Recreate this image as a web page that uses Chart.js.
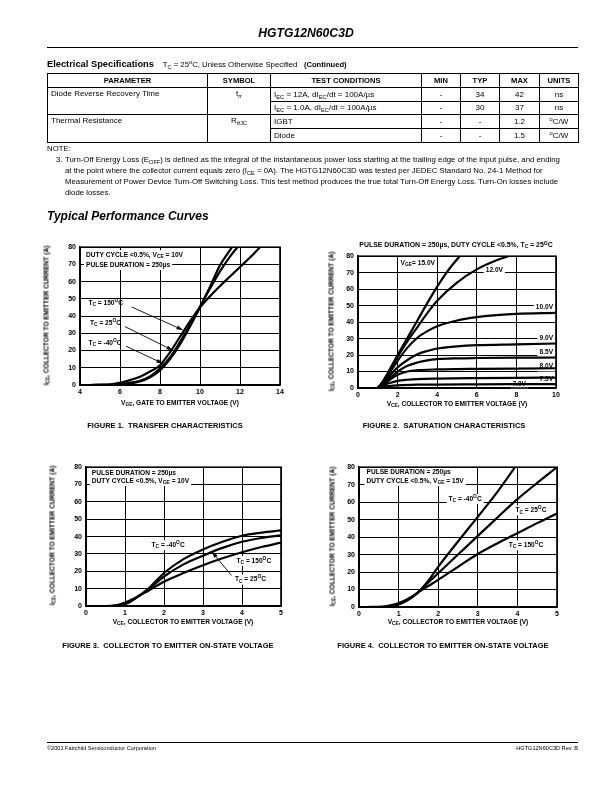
<!DOCTYPE html>
<html>
<head>
<meta charset="utf-8">
<script src="https://cdn.jsdelivr.net/npm/chart.js@4.4.1/dist/chart.umd.min.js"></script>
<style>
  html, body { margin: 0; padding: 0; background: #fff; }
  body { width: 612px; height: 792px; position: relative; overflow: hidden;
         font-family: "Liberation Sans", Arial, sans-serif; color: #000; }
  .abs { position: absolute; white-space: nowrap; will-change: transform; }
  sub { font-size: 0.72em; vertical-align: -0.3em; line-height: 0; }
  sup { font-size: 0.72em; vertical-align: 0.45em; line-height: 0; }
  #spec { position: absolute; left: 47px; top: 73px; width: 531px; border-collapse: collapse;
          table-layout: fixed; font-size: 8px; will-change: transform; }
  #spec td, #spec th { border: 1px solid #000; height: 12.8px; padding: 0 3px; vertical-align: middle;
          text-align: center; white-space: nowrap; overflow: hidden; }
  #spec th { font-weight: bold; font-size: 7.6px; }
  #spec td.l { text-align: left; }
  #spec td.top { vertical-align: top; padding-top: 1px; }
  .note { font-size: 7.8px; line-height: 11px; }
  .cap { font-size: 7.5px; font-weight: bold; width: 300px; text-align: center; }
  .axt { font-size: 6.6px; font-weight: bold; text-align: center; }
  .rot { transform: rotate(-90deg); transform-origin: 50% 50%; }
  canvas { position: absolute; }
</style>
</head>
<body>

<div class="abs" style="left:0;top:26px;width:612px;text-align:center;font:italic bold 12.2px 'Liberation Sans',Arial,sans-serif;line-height:14px;">HGTG12N60C3D</div>
<div class="abs" style="left:47px;top:47px;width:531px;height:1px;background:#000;"></div>

<div class="abs" style="left:47px;top:56px;line-height:12px;">
  <span style="font-weight:bold;font-size:9.3px;">Electrical Specifications</span><span style="font-size:7.8px;">&nbsp;&nbsp;&nbsp;&nbsp;T<sub>C</sub> = 25<sup>o</sup>C, Unless Otherwise Specified&nbsp;&nbsp;&nbsp;</span><span style="font-size:7.6px;font-weight:bold;">(Continued)</span>
</div>

<table id="spec">
  <colgroup>
    <col style="width:160px"><col style="width:63px"><col style="width:151px">
    <col style="width:39px"><col style="width:39px"><col style="width:40px"><col style="width:39px">
  </colgroup>
  <tr><th>PARAMETER</th><th>SYMBOL</th><th>TEST CONDITIONS</th><th>MIN</th><th>TYP</th><th>MAX</th><th>UNITS</th></tr>
  <tr><td rowspan="2" class="l top">Diode Reverse Recovery Time</td><td rowspan="2" class="top">t<sub>rr</sub></td>
      <td class="l">I<sub>EC</sub> = 12A, dI<sub>EC</sub>/dt = 100A/µs</td><td>-</td><td>34</td><td>42</td><td>ns</td></tr>
  <tr><td class="l">I<sub>EC</sub> = 1.0A, dI<sub>EC</sub>/dt = 100A/µs</td><td>-</td><td>30</td><td>37</td><td>ns</td></tr>
  <tr><td rowspan="2" class="l top">Thermal Resistance</td><td rowspan="2" class="top">R<sub>θJC</sub></td>
      <td class="l">IGBT</td><td>-</td><td>-</td><td>1.2</td><td><sup>o</sup>C/W</td></tr>
  <tr><td class="l">Diode</td><td>-</td><td>-</td><td>1.5</td><td><sup>o</sup>C/W</td></tr>
</table>

<div class="abs note" style="left:47px;top:143px;">NOTE:</div>
<div class="abs note" style="left:56px;top:154px;">3.</div>
<div class="abs note" style="left:65px;top:154px;">
  Turn-Off Energy Loss (E<sub>OFF</sub>) is defined as the integral of the instantaneous power loss starting at the trailing edge of the input pulse, and ending<br>
  at the point where the collector current equals zero (I<sub>CE</sub> = 0A). The HGTG12N60C3D was tested per JEDEC Standard No. 24-1 Method for<br>
  Measurement of Power Device Turn-Off Switching Loss. This test method produces the true total Turn-Off Energy Loss. Turn-On losses include<br>
  diode losses.
</div>

<div class="abs" style="left:47px;top:209px;font:italic bold 12px 'Liberation Sans',Arial,sans-serif;line-height:15px;">Typical Performance Curves</div>

<!-- figure 1 -->
<canvas id="fig1" width="230" height="160" style="left:58px;top:239px;"></canvas>
<div class="abs axt" style="left:80px;top:399px;width:200px;">V<sub>GE</sub>, GATE TO EMITTER VOLTAGE (V)</div>
<div class="abs axt rot" style="left:-34px;top:312px;width:160px;">I<sub>CE</sub>, COLLECTOR TO EMITTER CURRENT (A)</div>
<div class="abs cap" style="left:15px;top:421px;">FIGURE 1.&nbsp; TRANSFER CHARACTERISTICS</div>

<!-- figure 2 -->
<div class="abs axt" style="left:340px;top:241px;width:232px;font-size:6.9px;">PULSE DURATION = 250µs, DUTY CYCLE &lt;0.5%, T<sub>C</sub> = 25<sup>O</sup>C</div>
<canvas id="fig2" width="228" height="154" style="left:336px;top:248px;"></canvas>
<div class="abs axt" style="left:340px;top:400px;width:234px;">V<sub>CE</sub>, COLLECTOR TO EMITTER VOLTAGE (V)</div>
<div class="abs axt rot" style="left:251px;top:318px;width:160px;">I<sub>CE</sub>, COLLECTOR TO EMITTER CURRENT (A)</div>
<div class="abs cap" style="left:294px;top:421px;">FIGURE 2.&nbsp; SATURATION CHARACTERISTICS</div>

<!-- figure 3 -->
<canvas id="fig3" width="225" height="161" style="left:64px;top:459px;"></canvas>
<div class="abs axt" style="left:66px;top:618px;width:234px;">V<sub>CE</sub>, COLLECTOR TO EMITTER VOLTAGE (V)</div>
<div class="abs axt rot" style="left:-28px;top:532px;width:160px;">I<sub>CE</sub>, COLLECTOR TO EMITTER CURRENT (A)</div>
<div class="abs cap" style="left:18px;top:641px;">FIGURE 3.&nbsp; COLLECTOR TO EMITTER ON-STATE VOLTAGE</div>

<!-- figure 4 -->
<canvas id="fig4" width="228" height="162" style="left:337px;top:459px;"></canvas>
<div class="abs axt" style="left:341px;top:618px;width:234px;">V<sub>CE</sub>, COLLECTOR TO EMITTER VOLTAGE (V)</div>
<div class="abs axt rot" style="left:252px;top:533px;width:160px;">I<sub>CE</sub>, COLLECTOR TO EMITTER CURRENT (A)</div>
<div class="abs cap" style="left:293px;top:641px;">FIGURE 4.&nbsp; COLLECTOR TO EMITTER ON-STATE VOLTAGE</div>

<div class="abs" style="left:47px;top:742px;width:531px;height:1px;background:#000;"></div>
<div class="abs" style="left:47px;top:745px;font-size:5.6px;">©2001 Fairchild Semiconductor Corporation</div>
<div class="abs" style="left:378px;top:745px;width:200px;text-align:right;font-size:5.6px;">HGTG12N60C3D Rev. B</div>

<script>
// ---- Figure 1: transfer characteristics (VGE in V, ICE in A)
const f1X150 = [4.5, 5.5, 6, 6.5, 7, 7.5, 8, 8.5, 9, 9.5, 10, 10.5, 11, 11.5, 12, 12.5, 13.0];
const f1Y150 = [0, 0.3, 1.3, 2.8, 4.8, 7.8, 11.5, 19, 28, 37, 45, 51.5, 57.5, 63, 68.5, 74, 80];
const f1X25 = [4.5, 6, 6.5, 7, 7.5, 8, 8.5, 9, 9.5, 10, 10.5, 11, 11.5, 11.87];
const f1Y25 = [0, 0.5, 1.2, 2.5, 5, 9.5, 16, 25, 35, 45.5, 56, 66, 74.5, 80];
const f1Xm40 = [4.5, 6, 6.5, 7, 7.5, 8, 8.5, 9, 9.5, 10, 10.5, 11, 11.3, 11.6];
const f1Ym40 = [0, 0.3, 0.8, 2, 4.5, 8.5, 15, 23.5, 34, 45, 57, 69.5, 75, 80];

// ---- Figure 2: saturation characteristics, one curve per VGE
const f2X15 = [0, 0.95, 1.2, 1.5, 2, 2.5, 3, 3.5, 4, 4.5, 5.13];
const f2Y15 = [0, 0, 3, 9, 20, 30.5, 41, 51.5, 61.5, 70.5, 80];
const f2X12 = [0, 0.95, 1.2, 1.5, 2, 2.5, 3, 3.5, 4, 5, 6, 7, 7.6];
const f2Y12 = [0, 0, 3, 8.5, 19, 28.5, 37, 45.5, 53, 64, 72, 77.5, 80];
const f2X10 = [0, 1, 1.2, 1.5, 2, 2.5, 3, 3.5, 4, 5, 6, 7, 8, 10];
const f2Y10 = [0, 0, 2.5, 7.5, 16.5, 24.5, 30.5, 34.5, 37.5, 41, 43, 44.2, 45, 45.6];
const f2X9 = [0, 1, 1.3, 1.6, 2, 2.5, 3, 3.5, 4, 5, 6, 8, 10];
const f2Y9 = [0, 0, 3, 7.5, 12.5, 17, 20.5, 22.5, 24, 25.3, 26, 26.5, 27];
const f2X85 = [0, 1, 1.3, 1.6, 2, 2.5, 3, 3.5, 4, 5, 6, 8, 10];
const f2Y85 = [0, 0, 2.5, 6, 10, 13.5, 15.5, 16.8, 17.5, 18, 18.2, 18.4, 18.5];
const f2X8 = [0, 1, 1.3, 1.6, 2, 2.5, 3, 4, 5, 6, 8, 10];
const f2Y8 = [0, 0, 2, 5, 8, 10, 10.8, 11.3, 11.5, 11.6, 11.8, 12];
const f2X75 = [0, 1, 1.3, 1.6, 2, 2.5, 3, 4, 6, 8, 10];
const f2Y75 = [0, 0, 1.5, 3, 4.3, 5, 5.4, 5.7, 6, 6.2, 6.3];
const f2X7 = [0, 1, 1.3, 1.6, 2, 3, 4, 6, 8, 10];
const f2Y7 = [0, 0, 0.7, 1.2, 1.6, 2, 2.1, 2.2, 2.3, 2.4];

// ---- Figure 3: on-state voltage, VGE = 10V
const f3X = [0, 0.6, 0.9, 1.1, 1.3, 1.6, 2, 2.5, 3, 3.5, 4, 4.5, 5];
const f3Ym40 = [0, 0, 0.5, 2, 4.8, 10, 19, 27, 32.6, 37, 40.5, 42.3, 43.6];
const f3Y25 = [0, 0, 0.6, 2.2, 5, 9.5, 17, 24, 29, 33.5, 37, 39.2, 40.7];
const f3X150 = [0, 0.5, 0.8, 1, 1.2, 1.4, 1.6, 2, 2.5, 3, 3.5, 4, 4.5, 5];
const f3Y150 = [0, 0, 0.6, 2, 4, 6.5, 8.8, 14, 19, 23.5, 27.5, 31, 34, 36.5];

// ---- Figure 4: on-state voltage, VGE = 15V
const f4Xm40 = [0.2, 0.6, 0.9, 1.1, 1.3, 1.5, 1.75, 2, 2.5, 3, 3.5, 3.94];
const f4Ym40 = [0, 0, 0.8, 2.5, 5, 8.5, 15, 23, 37.5, 51.6, 66, 80];
const f4X = [0.2, 0.6, 0.9, 1.1, 1.3, 1.5, 1.75, 2, 2.5, 3, 3.5, 4, 4.5, 5];
const f4Y25 = [0, 0, 0.8, 2.5, 5, 8.5, 14, 19.3, 30, 40.7, 51.3, 61.7, 71, 80];
const f4Y150 = [0, 0.2, 1.5, 3.2, 5.5, 8.5, 12, 15.5, 23, 30.3, 36.5, 42.2, 48, 53.5];

const yTicks = [0, 10, 20, 30, 40, 50, 60, 70, 80];

const FONT = "'Liberation Sans', Arial, sans-serif";

function pairs(xs, ys) {
  return xs.map((x, i) => ({ x: x, y: ys[i] }));
}

// text like "T_{C} = 150^{O}C" -> segments with sub/superscript
function parseRich(s) {
  const out = [];
  const re = /([_^])\{([^}]*)\}|[^_^]+/g;
  let m;
  while ((m = re.exec(s)) !== null) {
    if (m[1]) out.push({ t: m[2], mode: m[1] === '_' ? 'sub' : 'sup' });
    else out.push({ t: m[0], mode: 'n' });
  }
  return out;
}

function drawRich(ctx, text, x, y, align, box) {
  const size = 6.6, small = 4.9;
  const segs = parseRich(text);
  let w = 0;
  segs.forEach(s => {
    ctx.font = 'bold ' + (s.mode === 'n' ? size : small) + 'px ' + FONT;
    s.w = ctx.measureText(s.t).width;
    w += s.w;
  });
  let sx = align === 'right' ? x - w : x;
  if (box) {
    ctx.fillStyle = '#fff';
    ctx.fillRect(sx - 2, y - 5, w + 4, 10);
  }
  ctx.fillStyle = '#000';
  ctx.textBaseline = 'middle';
  ctx.textAlign = 'left';
  segs.forEach(s => {
    ctx.font = 'bold ' + (s.mode === 'n' ? size : small) + 'px ' + FONT;
    const dy = s.mode === 'sub' ? 1.8 : s.mode === 'sup' ? -2.6 : 0;
    ctx.fillText(s.t, sx, y + dy);
    sx += s.w;
  });
}

const notesPlugin = {
  id: 'notes',
  beforeDatasetsDraw(chart, args, opts) {
    const { ctx, scales } = chart;
    ctx.save();
    (opts.labels || []).forEach(l => {
      drawRich(ctx, l.text, scales.x.getPixelForValue(l.x), scales.y.getPixelForValue(l.y), l.align, l.box);
    });
    ctx.restore();
  },
  afterDatasetsDraw(chart, args, opts) {
    const { ctx, scales, chartArea } = chart;
    ctx.save();
    ctx.strokeStyle = '#000';
    ctx.fillStyle = '#000';
    (opts.arrows || []).forEach(a => {
      const x1 = scales.x.getPixelForValue(a.from[0]), y1 = scales.y.getPixelForValue(a.from[1]);
      const x2 = scales.x.getPixelForValue(a.to[0]), y2 = scales.y.getPixelForValue(a.to[1]);
      const ang = Math.atan2(y2 - y1, x2 - x1);
      ctx.lineWidth = 0.9;
      ctx.beginPath();
      ctx.moveTo(x1, y1);
      ctx.lineTo(x2 - 5 * Math.cos(ang), y2 - 5 * Math.sin(ang));
      ctx.stroke();
      ctx.beginPath();
      ctx.moveTo(x2, y2);
      ctx.lineTo(x2 - 7 * Math.cos(ang) + 2 * Math.sin(ang), y2 - 7 * Math.sin(ang) - 2 * Math.cos(ang));
      ctx.lineTo(x2 - 7 * Math.cos(ang) - 2 * Math.sin(ang), y2 - 7 * Math.sin(ang) + 2 * Math.cos(ang));
      ctx.closePath();
      ctx.fill();
    });
    // heavy plot frame
    ctx.lineWidth = 1.6;
    ctx.strokeRect(chartArea.left, chartArea.top, chartArea.right - chartArea.left, chartArea.bottom - chartArea.top);
    ctx.restore();
  }
};

function curve(data) {
  return {
    data: data,
    showLine: true,
    borderColor: '#000',
    borderWidth: 2.2,
    pointRadius: 0,
    fill: false,
    cubicInterpolationMode: 'monotone'
  };
}

function makeChart(id, xMin, xMax, xStep, series, notes) {
  return new Chart(document.getElementById(id), {
    type: 'scatter',
    data: { datasets: series.map(curve) },
    options: {
      responsive: false,
      animation: false,
      layout: { padding: { top: 6, right: 8, left: 0, bottom: 0 } },
      plugins: { legend: { display: false }, tooltip: { enabled: false }, notes: notes },
      scales: {
        x: {
          type: 'linear', min: xMin, max: xMax,
          afterFit: s => { s.height = 14; },
          grid: { color: '#000', lineWidth: 1, drawTicks: false },
          border: { color: '#000', width: 1.6 },
          ticks: { stepSize: xStep, padding: 3, color: '#000', font: { family: FONT, size: 7, weight: 'bold' } }
        },
        y: {
          type: 'linear', min: yTicks[0], max: yTicks[yTicks.length - 1],
          afterFit: s => { s.width = 22; },
          afterBuildTicks: s => { s.ticks = yTicks.map(v => ({ value: v })); },
          grid: { color: '#000', lineWidth: 1, drawTicks: false },
          border: { color: '#000', width: 1.6 },
          ticks: { padding: 4, color: '#000', font: { family: FONT, size: 7, weight: 'bold' } }
        }
      }
    },
    plugins: [notesPlugin]
  });
}

makeChart('fig1', 4, 14, 2,
  [pairs(f1X150, f1Y150), pairs(f1X25, f1Y25), pairs(f1Xm40, f1Ym40)],
  {
    labels: [
      { text: 'DUTY CYCLE <0.5%, V_{CE} = 10V', x: 4.3, y: 75.4, box: true },
      { text: 'PULSE DURATION = 250µs', x: 4.3, y: 69.7, box: true },
      { text: 'T_{C} = 150^{O}C', x: 4.42, y: 47.6 },
      { text: 'T_{C} = 25^{O}C', x: 4.5, y: 35.8 },
      { text: 'T_{C} = -40^{O}C', x: 4.42, y: 24.4 }
    ],
    arrows: [
      { from: [6.58, 45.3], to: [9.17, 31.8] },
      { from: [6.25, 33.9], to: [8.67, 20] },
      { from: [6.3, 22.5], to: [8.17, 12.4] }
    ]
  });

makeChart('fig2', 0, 10, 2,
  [pairs(f2X15, f2Y15), pairs(f2X12, f2Y12), pairs(f2X10, f2Y10), pairs(f2X9, f2Y9),
   pairs(f2X85, f2Y85), pairs(f2X8, f2Y8), pairs(f2X75, f2Y75), pairs(f2X7, f2Y7)],
  {
    labels: [
      { text: 'V_{GE}= 15.0V', x: 2.15, y: 76, box: true },
      { text: '12.0V', x: 6.45, y: 71.5, box: true },
      { text: '10.0V', x: 9.85, y: 49, align: 'right', box: true },
      { text: '9.0V', x: 9.85, y: 30, align: 'right', box: true },
      { text: '8.5V', x: 9.85, y: 21.7, align: 'right', box: true },
      { text: '8.0V', x: 9.85, y: 13.1, align: 'right', box: true },
      { text: '7.5V', x: 9.85, y: 5.4, align: 'right', box: true },
      { text: '7.0V', x: 7.8, y: 2.4, box: true }
    ]
  });

makeChart('fig3', 0, 5, 1,
  [pairs(f3X, f3Ym40), pairs(f3X, f3Y25), pairs(f3X150, f3Y150)],
  {
    labels: [
      { text: 'PULSE DURATION = 250µs', x: 0.15, y: 76.8, box: true },
      { text: 'DUTY CYCLE <0.5%, V_{GE} = 10V', x: 0.15, y: 72, box: true },
      { text: 'T_{C} = -40^{O}C', x: 1.68, y: 35, box: true },
      { text: 'T_{C} = 150^{O}C', x: 3.86, y: 25.9, box: true },
      { text: 'T_{C} = 25^{O}C', x: 3.82, y: 15.3, box: true }
    ],
    arrows: [
      { from: [3.73, 17.6], to: [3.22, 31.5] }
    ]
  });

makeChart('fig4', 0, 5, 1,
  [pairs(f4Xm40, f4Ym40), pairs(f4X, f4Y25), pairs(f4X, f4Y150)],
  {
    labels: [
      { text: 'PULSE DURATION = 250µs', x: 0.19, y: 77.2, box: true },
      { text: 'DUTY CYCLE <0.5%, V_{GE} = 15V', x: 0.19, y: 72.1, box: true },
      { text: 'T_{C} = -40^{O}C', x: 2.26, y: 61.8, box: true },
      { text: 'T_{C} = 25^{O}C', x: 3.95, y: 55.2, box: true },
      { text: 'T_{C} = 150^{O}C', x: 3.78, y: 35.3, box: true }
    ]
  });
</script>
</body>
</html>
